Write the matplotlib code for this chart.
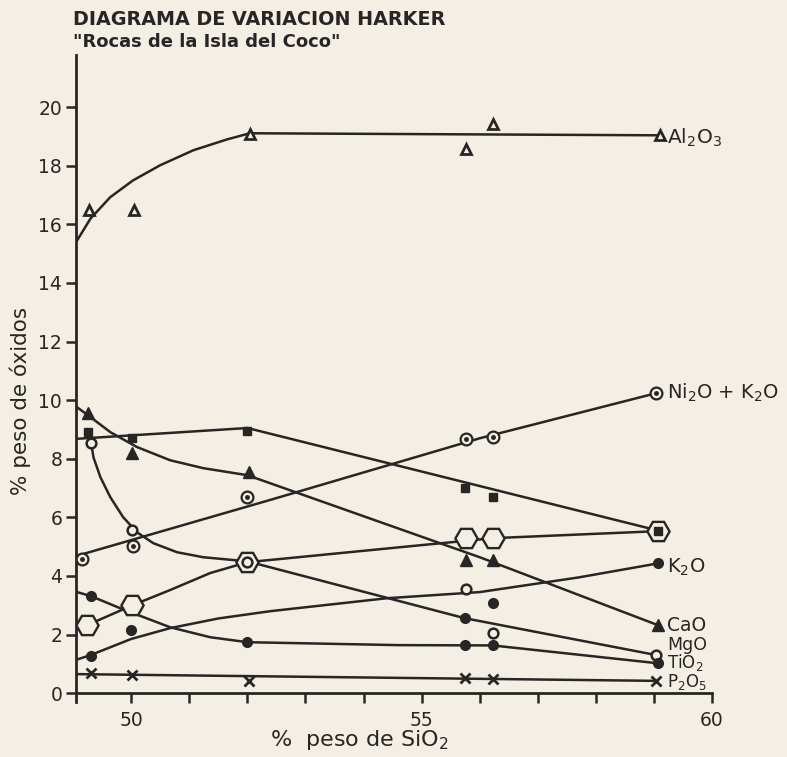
import matplotlib
matplotlib.use("Agg")
import matplotlib.pyplot as plt

# --- data (% peso de SiO2 vs % peso de oxidos) ---
al2o3_x = [49.28, 50.05, 52.04, 55.76, 56.22, 59.1]
al2o3_y = [16.48, 16.48, 19.08, 18.57, 19.42, 19.04]
al2o3_line_x = [49.04, 49.3, 49.64, 50.03, 50.5, 51.07, 51.65, 52.04, 59.1]
al2o3_line_y = [15.36, 16.2, 16.93, 17.5, 18.02, 18.53, 18.9, 19.11, 19.04]

ni_x = [49.16, 50.03, 52.0, 55.76, 56.22, 59.04]
ni_y = [4.57, 5.02, 6.69, 8.67, 8.74, 10.24]
ni_line_x = [49.05, 52.4, 56.0, 59.04]
ni_line_y = [4.68, 6.6, 8.7, 10.24]

feo_x = [49.26, 50.02, 52.0, 55.74, 56.22, 59.07]
feo_y = [8.91, 8.7, 8.94, 7.0, 6.69, 5.55]
feo_line_x = [49.05, 52.0, 59.07]
feo_line_y = [8.68, 9.05, 5.55]

cao_x = [49.26, 50.02, 52.03, 55.76, 56.22, 59.07]
cao_y = [9.56, 8.19, 7.54, 4.54, 4.54, 2.32]
cao_line_x = [49.04, 49.3, 49.64, 50.1, 50.67, 51.24, 52.0, 56.0, 59.07]
cao_line_y = [9.8, 9.42, 8.91, 8.4, 7.95, 7.68, 7.44, 4.64, 2.32]

mgo_x = [49.31, 50.02, 52.0, 55.76, 56.22, 59.04]
mgo_y = [8.53, 5.56, 4.47, 3.55, 2.05, 1.3]
mgo_line_x = [49.31, 49.35, 49.47, 49.64, 49.86, 50.1, 50.38, 50.79, 51.24, 52.0, 55.74, 59.04]
mgo_line_y = [8.55, 8.05, 7.37, 6.69, 6.01, 5.49, 5.12, 4.81, 4.64, 4.5, 2.56, 1.3]

k2o_x = [49.3, 50.0, 55.74, 56.22, 59.07]
k2o_y = [1.26, 2.15, 2.56, 3.07, 4.43]
k2o_line_x = [49.07, 49.3, 50.0, 50.67, 51.5, 52.4, 54.4, 56.0, 57.7, 59.07]
k2o_line_y = [1.15, 1.3, 1.85, 2.22, 2.55, 2.8, 3.24, 3.45, 3.95, 4.43]

tio2_x = [49.31, 52.0, 55.74, 56.22, 59.07]
tio2_y = [3.31, 1.74, 1.64, 1.64, 1.02]
tio2_line_x = [49.07, 49.31, 49.81, 50.67, 51.36, 52.0, 54.6, 56.22, 59.07]
tio2_line_y = [3.45, 3.31, 2.9, 2.25, 1.91, 1.74, 1.64, 1.63, 1.02]

na2o_x = [49.24, 50.02, 52.0, 55.76, 56.22, 59.07]
na2o_y = [2.32, 3.0, 4.47, 5.29, 5.29, 5.53]
na2o_line_x = [49.24, 50.02, 50.67, 51.36, 52.0, 54.62, 55.76, 56.22, 59.07]
na2o_line_y = [2.32, 3.0, 3.52, 4.1, 4.47, 4.98, 5.2, 5.29, 5.53]

p2o5_x = [49.31, 50.02, 52.03, 55.74, 56.22, 59.04]
p2o5_y = [0.68, 0.61, 0.42, 0.51, 0.5, 0.42]
p2o5_line_x = [49.07, 59.04]
p2o5_line_y = [0.65, 0.42]

end_labels = [r'Al$_2$O$_3$', r'Ni$_2$O + K$_2$O', r'K$_2$O', 'CaO', 'MgO', r'TiO$_2$', r'P$_2$O$_5$']
end_label_y = [18.95, 10.24, 4.3, 2.3, 1.66, 1.04, 0.38]
end_label_size = [14.5, 14, 14, 13.5, 12.5, 12, 12]

x_ticks = list(range(50, 61))
x_ticklabels = ['50', '', '', '', '', '55', '', '', '', '', '60']
y_ticks = list(range(0, 21, 2))

bg = '#f3efe5'
ink = '#2a2525'
lw = 1.8

fig = plt.figure(figsize=(7.87, 7.57), dpi=100, facecolor=bg)
ax = fig.add_axes([0.0966, 0.0727, 0.8082, 0.8546])
ax.set_facecolor(bg)

# fitted curves
for lx, ly in [(al2o3_line_x, al2o3_line_y), (ni_line_x, ni_line_y), (feo_line_x, feo_line_y),
               (cao_line_x, cao_line_y), (mgo_line_x, mgo_line_y), (k2o_line_x, k2o_line_y),
               (tio2_line_x, tio2_line_y), (na2o_line_x, na2o_line_y), (p2o5_line_x, p2o5_line_y)]:
    ax.plot(lx, ly, color=ink, lw=lw, solid_capstyle='round', zorder=2)

# sample points
ax.plot(na2o_x, na2o_y, 'H', ms=16, mfc=bg, mec=ink, mew=1.7, ls='none', zorder=3)
ax.plot(al2o3_x, al2o3_y, '^', ms=7, mfc=bg, mec=ink, mew=2, ls='none', zorder=4)
ax.plot(ni_x, ni_y, 'o', ms=8.5, mfc=bg, mec=ink, mew=1.6, ls='none', zorder=4)
ax.plot(ni_x, ni_y, 'o', ms=2.5, color=ink, ls='none', zorder=5)
ax.plot(feo_x, feo_y, 's', ms=6, color=ink, ls='none', zorder=4)
ax.plot(cao_x, cao_y, '^', ms=8, color=ink, ls='none', zorder=4)
ax.plot(mgo_x, mgo_y, 'o', ms=7, mfc=bg, mec=ink, mew=1.8, ls='none', zorder=4)
ax.plot(k2o_x, k2o_y, 'o', ms=7, color=ink, ls='none', zorder=4)
ax.plot(tio2_x, tio2_y, 'o', ms=7, color=ink, ls='none', zorder=4)
ax.plot(p2o5_x, p2o5_y, 'x', ms=7, mec=ink, mew=2, ls='none', zorder=4)

for name, ypos, fs in zip(end_labels, end_label_y, end_label_size):
    ax.text(59.22, ypos, name, fontsize=fs, color=ink, va='center', ha='left', clip_on=False)

ax.set_xlim(49.05, 60)
ax.set_ylim(-0.3, 21.78)
ax.spines['bottom'].set_position(('data', 0))
ax.set_xticks(x_ticks)
ax.set_xticklabels(x_ticklabels)
ax.set_yticks(y_ticks)
ax.tick_params(direction='out', length=7, width=1.8, color=ink, labelcolor=ink, labelsize=13.5, pad=3)
ax.tick_params(axis='x', pad=6)
for side in ['top', 'right']:
    ax.spines[side].set_visible(False)
for side in ['left', 'bottom']:
    ax.spines[side].set_color(ink)
    ax.spines[side].set_linewidth(2)

fig.text(0.093, 0.974, 'DIAGRAMA DE VARIACION HARKER', fontsize=13.8, fontweight='bold',
         color=ink, va='center', ha='left')
fig.text(0.093, 0.944, '"Rocas de la Isla del Coco"', fontsize=13, fontweight='bold',
         color=ink, va='center', ha='left')
fig.text(0.026, 0.47, '% peso de óxidos', fontsize=15.5, color=ink, rotation=90,
         va='center', ha='center')
fig.text(0.457, 0.022, r'%  peso de SiO$_2$', fontsize=16, color=ink, va='center', ha='center')

fig.savefig('out.png', dpi=100, facecolor=bg)
